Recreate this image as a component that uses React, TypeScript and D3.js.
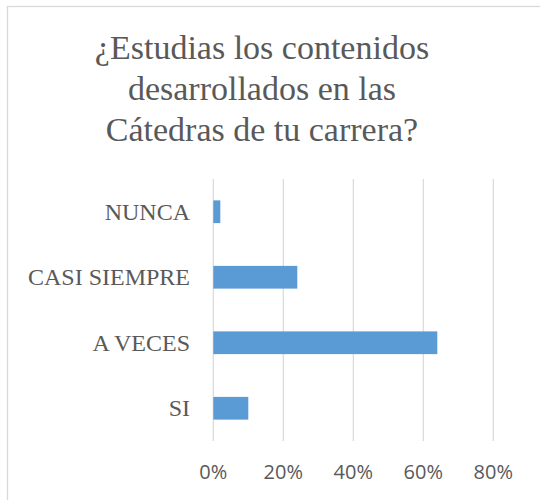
import React from "react";
import * as d3 from "d3";

const categories = ["NUNCA", "CASI SIEMPRE", "A VECES", "SI"];
const values = [0.02, 0.24, 0.64, 0.1];
const xTicks = [0, 0.2, 0.4, 0.6, 0.8];
const titleLines = ["¿Estudias los contenidos", "desarrollados en las", "Cátedras de tu carrera?"];

const W = 540;
const H = 500;

export default function App() {
  const x = d3.scaleLinear().domain([0, 0.8]).range([213.3, 493.3]);
  const y = d3
    .scaleBand<string>()
    .domain(categories)
    .range([179, 441])
    .paddingInner(0.653)
    .paddingOuter(0.3265);
  const fmt = d3.format(".0%");
  const textColor = "#595959";

  return (
    <svg
      width={W}
      height={H}
      style={{ position: "absolute", left: 0, top: 0, display: "block", background: "#fff" }}
    >
      <rect x={7.5} y={6.5} width={W} height={H} fill="#fff" stroke="#d9d9d9" strokeWidth={1.3} />
      {titleLines.map((t, i) => (
        <text
          key={i}
          x={262}
          y={59 + i * 41}
          textAnchor="middle"
          fontFamily="'Liberation Serif', serif"
          fontSize={34}
          fill={textColor}
        >
          {t}
        </text>
      ))}
      {xTicks.map((t) => (
        <line
          key={"g" + t}
          x1={x(t)}
          x2={x(t)}
          y1={179}
          y2={441}
          stroke="#d9d9d9"
          strokeWidth={1.2}
        />
      ))}
      {categories.map((c, i) => (
        <rect
          key={c}
          x={x(0)}
          y={y(c)!}
          width={x(values[i]) - x(0)}
          height={y.bandwidth()}
          fill="#5b9bd5"
        />
      ))}
      {categories.map((c) => (
        <text
          key={"l" + c}
          x={190}
          y={y(c)! + y.bandwidth() / 2 + 7.8}
          textAnchor="end"
          fontFamily="'Liberation Serif', serif"
          fontSize={24}
          fill={textColor}
        >
          {c}
        </text>
      ))}
      {xTicks.map((t) => (
        <text
          key={"t" + t}
          x={x(t)}
          y={479}
          textAnchor="middle"
          fontFamily="'Open Sans', sans-serif"
          fontSize={20}
          fill={textColor}
        >
          {fmt(t)}
        </text>
      ))}
    </svg>
  );
}
